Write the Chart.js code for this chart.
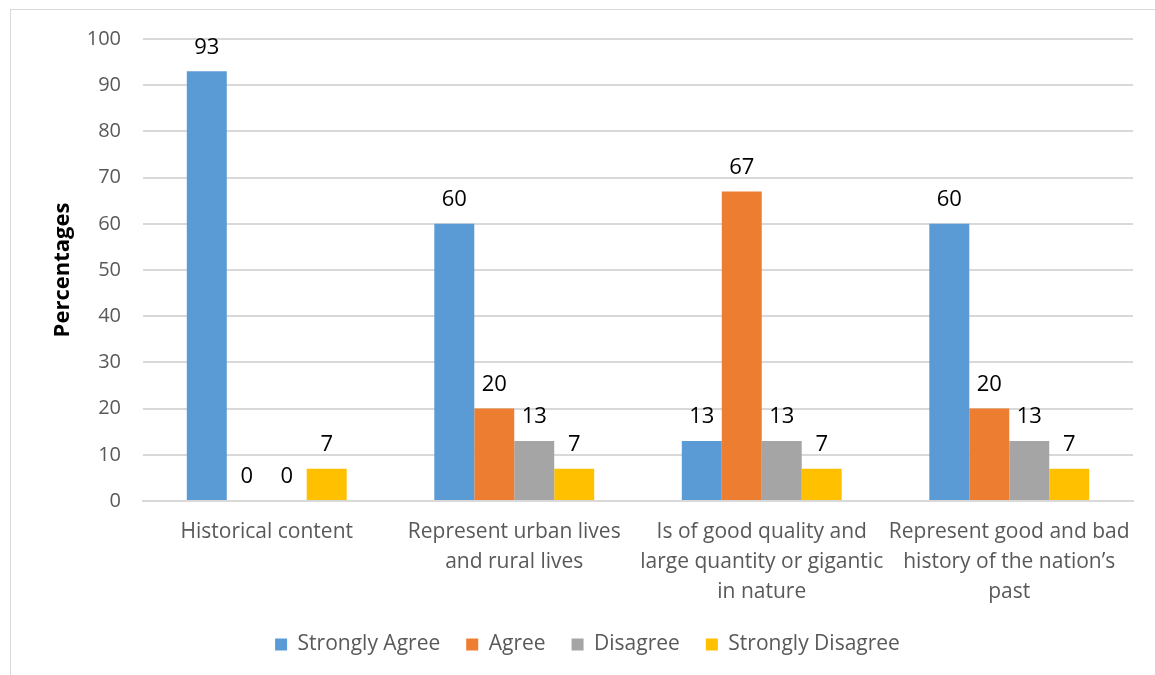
<!DOCTYPE html>
<html>
<head>
<meta charset="utf-8">
<script src="https://cdn.jsdelivr.net/npm/chart.js@4.4.1/dist/chart.umd.min.js"></script>
<style>
  html, body { margin: 0; padding: 0; background: #fff; }
  #wrap { position: relative; width: 1155px; height: 675px; overflow: hidden; }
  #frame { position: absolute; left: 10px; top: 9px; width: 1300px; height: 800px; border: 1px solid #d9d9d9; box-sizing: border-box; }
  #c { position: absolute; left: 0; top: 0; }
</style>
</head>
<body>
<div id="wrap">
  <div id="frame"></div>
  <canvas id="c" width="1155" height="675"></canvas>
</div>
<script>
const categories = [
  ["Historical content"],
  ["Represent urban lives", "and rural lives"],
  ["Is of good quality and", "large quantity or gigantic", "in nature"],
  ["Represent good and bad", "history of the nation\u2019s", "past"]
];
const seriesNames = ["Strongly Agree", "Agree", "Disagree", "Strongly Disagree"];
const stronglyAgree = [93, 60, 13, 60];
const agree = [0, 20, 67, 20];
const disagree = [0, 13, 13, 13];
const stronglyDisagree = [7, 7, 7, 7];
const yTicks = [0, 10, 20, 30, 40, 50, 60, 70, 80, 90, 100];
const colors = ["#5b9bd5", "#ed7d31", "#a5a5a5", "#ffc000"];

const FONT = "'Open Sans', 'Noto Sans', sans-serif";

const labelPlugin = {
  id: 'valueLabels',
  afterDatasetsDraw(chart) {
    const ctx = chart.ctx;
    ctx.save();
    ctx.font = "22px " + FONT;
    ctx.fillStyle = "#000";
    ctx.textAlign = "center";
    ctx.textBaseline = "middle";
    chart.data.datasets.forEach((ds, di) => {
      const meta = chart.getDatasetMeta(di);
      meta.data.forEach((bar, i) => {
        ctx.fillText(String(ds.data[i]), bar.x, bar.y - 24);
      });
    });
    ctx.restore();
  }
};

const legendShift = {
  id: 'legendShift',
  afterLayout(chart) {
    if (chart.legend) { chart.legend.left += 16; chart.legend.right += 16; }
  }
};

const datasets = [stronglyAgree, agree, disagree, stronglyDisagree].map((d, i) => ({
  label: seriesNames[i],
  data: d,
  backgroundColor: colors[i],
  borderWidth: 0,
  barPercentage: 1.0,
  categoryPercentage: 0.646
}));

new Chart(document.getElementById('c'), {
  type: 'bar',
  data: { labels: categories, datasets },
  plugins: [labelPlugin, legendShift],
  options: {
    responsive: false,
    animation: false,
    layout: { padding: { left: 10, right: 22, top: 39, bottom: 10 } },
    plugins: {
      tooltip: { enabled: false },
      legend: {
        position: 'bottom',
        labels: {
          boxWidth: 12, boxHeight: 12,
          color: '#595959',
          font: { family: FONT, size: 21 },
          padding: 26
        }
      }
    },
    scales: {
      x: {
        grid: { display: false, drawTicks: false },
        border: { display: true, color: '#d9d9d9', width: 2 },
        ticks: {
          color: '#595959',
          font: { family: FONT, size: 21, lineHeight: 1.43 },
          padding: 16,
          maxRotation: 0, autoSkip: false
        },
        afterFit(s) { s.height = 107; }
      },
      y: {
        min: 0, max: 100,
        afterBuildTicks(s) { s.ticks = yTicks.map(v => ({ value: v })); },
        grid: { color: '#d9d9d9', lineWidth: 2, drawTicks: false },
        border: { display: false },
        ticks: {
          color: '#595959',
          font: { family: FONT, size: 20 },
          padding: 22
        },
        title: {
          display: true,
          text: 'Percentages',
          color: '#000',
          font: { family: FONT, size: 22, weight: 'bold' },
          padding: { top: 40, bottom: 0 }
        },
        afterFit(s) { s.width = 133; }
      }
    }
  }
});
</script>
</body>
</html>
